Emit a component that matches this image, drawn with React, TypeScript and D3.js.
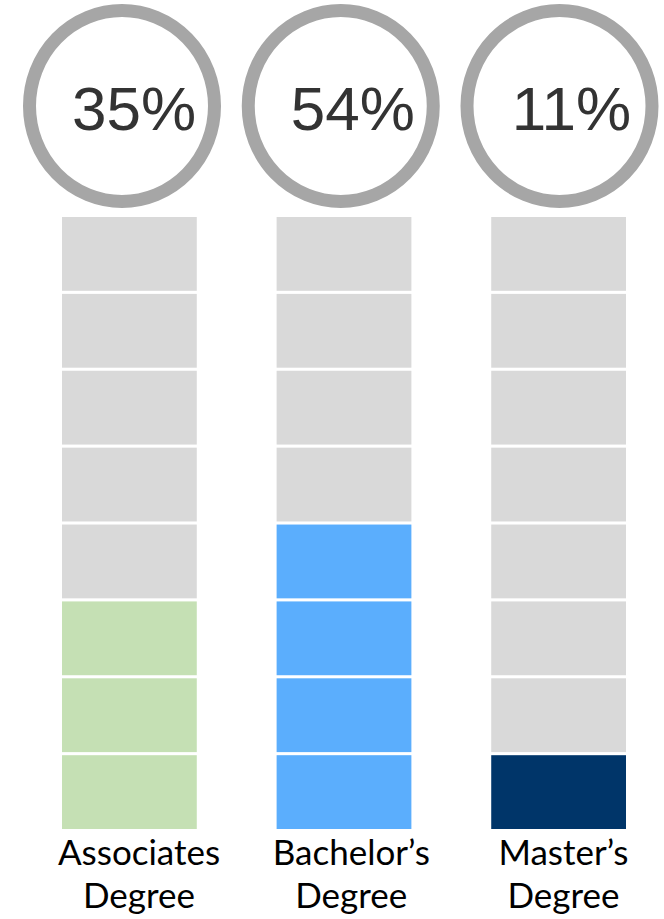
import * as d3 from "d3"

// Chart data
const categories = ["Associates Degree", "Bachelor’s Degree", "Master’s Degree"]
const labelLines = [
  ["Associates", "Degree"],
  ["Bachelor’s", "Degree"],
  ["Master’s", "Degree"],
]
const percents = [35, 54, 11]
const filledBlocks = [3, 4, 1]
const totalBlocks = 8
const fillColors = ["#c5e0b4", "#5baefd", "#003569"]

const width = 664
const height = 919
const emptyColor = "#d9d9d9"
const ringColor = "#a6a6a6"

export default function App() {
  // columns of blocks
  const x = d3.scaleBand<string>().domain(categories).range([62, 626]).paddingInner(0.372)
  const y = d3
    .scaleBand<number>()
    .domain(d3.range(totalBlocks))
    .range([829, 217])
    .paddingInner(0.04)

  // rings and labels sit slightly off the column centres in the original
  const ringX = d3.scalePoint<string>().domain(categories).range([122, 559.5])
  const labelX = d3.scalePoint<string>().domain(categories).range([139, 563.5])

  return (
    <svg
      width={width}
      height={height}
      style={{ position: "absolute", left: 0, top: 0, background: "#fff" }}
    >
      {categories.map((cat, ci) => (
        <g key={cat}>
          <ellipse
            cx={ringX(cat)}
            cy={106}
            rx={92.5}
            ry={95.5}
            fill="#fff"
            stroke={ringColor}
            strokeWidth={13}
          />
          <text
            x={(ringX(cat) ?? 0) + 12}
            y={130}
            textAnchor="middle"
            fontFamily="'Liberation Sans', Arial, sans-serif"
            fontSize={62}
            fill="#333"
          >
            {percents[ci]}%
          </text>
          {d3.range(totalBlocks).map(i => (
            <rect
              key={i}
              x={x(cat)}
              y={y(i)}
              width={x.bandwidth()}
              height={y.bandwidth()}
              fill={i < filledBlocks[ci] ? fillColors[ci] : emptyColor}
            />
          ))}
          {labelLines[ci].map((line, li) => (
            <text
              key={li}
              x={labelX(cat)}
              y={865 + li * 43}
              textAnchor="middle"
              fontFamily="Lato, 'Open Sans', sans-serif"
              fontSize={35}
              fill="#000"
            >
              {line}
            </text>
          ))}
        </g>
      ))}
    </svg>
  )
}
